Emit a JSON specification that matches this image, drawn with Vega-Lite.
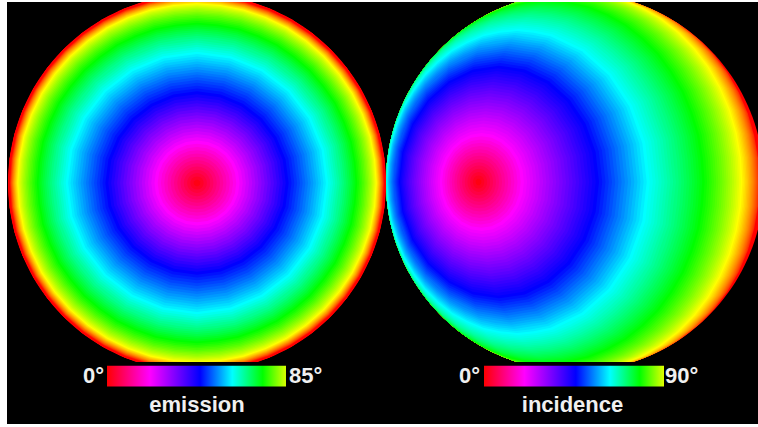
{
  "$schema": "https://vega.github.io/schema/vega-lite/v6.json",
  "background": "white",
  "padding": {"left": 7, "top": 2, "right": 0, "bottom": 3},
  "config": {"view": {"fill": "black", "stroke": null}, "concat": {"spacing": 0}},
  "datasets": {
    "caps": [
      {"a":108,"type":"Polygon","coordinates":[[[180,-18],[165,-18],[150,-18],[135,-18],[120,-18],[105,-18],[90,-18],[75,-18],[60,-18],[45,-18],[30,-18],[15,-18],[0,-18],[-15,-18],[-30,-18],[-45,-18],[-60,-18],[-75,-18],[-90,-18],[-105,-18],[-120,-18],[-135,-18],[-150,-18],[-165,-18],[180,-18]]]},
      {"a":107,"type":"Polygon","coordinates":[[[180,-17],[165,-17],[150,-17],[135,-17],[120,-17],[105,-17],[90,-17],[75,-17],[60,-17],[45,-17],[30,-17],[15,-17],[0,-17],[-15,-17],[-30,-17],[-45,-17],[-60,-17],[-75,-17],[-90,-17],[-105,-17],[-120,-17],[-135,-17],[-150,-17],[-165,-17],[180,-17]]]},
      {"a":106,"type":"Polygon","coordinates":[[[180,-16],[165,-16],[150,-16],[135,-16],[120,-16],[105,-16],[90,-16],[75,-16],[60,-16],[45,-16],[30,-16],[15,-16],[0,-16],[-15,-16],[-30,-16],[-45,-16],[-60,-16],[-75,-16],[-90,-16],[-105,-16],[-120,-16],[-135,-16],[-150,-16],[-165,-16],[180,-16]]]},
      {"a":105,"type":"Polygon","coordinates":[[[180,-15],[165,-15],[150,-15],[135,-15],[120,-15],[105,-15],[90,-15],[75,-15],[60,-15],[45,-15],[30,-15],[15,-15],[0,-15],[-15,-15],[-30,-15],[-45,-15],[-60,-15],[-75,-15],[-90,-15],[-105,-15],[-120,-15],[-135,-15],[-150,-15],[-165,-15],[180,-15]]]},
      {"a":104,"type":"Polygon","coordinates":[[[180,-14],[165,-14],[150,-14],[135,-14],[120,-14],[105,-14],[90,-14],[75,-14],[60,-14],[45,-14],[30,-14],[15,-14],[0,-14],[-15,-14],[-30,-14],[-45,-14],[-60,-14],[-75,-14],[-90,-14],[-105,-14],[-120,-14],[-135,-14],[-150,-14],[-165,-14],[180,-14]]]},
      {"a":103,"type":"Polygon","coordinates":[[[180,-13],[165,-13],[150,-13],[135,-13],[120,-13],[105,-13],[90,-13],[75,-13],[60,-13],[45,-13],[30,-13],[15,-13],[0,-13],[-15,-13],[-30,-13],[-45,-13],[-60,-13],[-75,-13],[-90,-13],[-105,-13],[-120,-13],[-135,-13],[-150,-13],[-165,-13],[180,-13]]]},
      {"a":102,"type":"Polygon","coordinates":[[[180,-12],[165,-12],[150,-12],[135,-12],[120,-12],[105,-12],[90,-12],[75,-12],[60,-12],[45,-12],[30,-12],[15,-12],[0,-12],[-15,-12],[-30,-12],[-45,-12],[-60,-12],[-75,-12],[-90,-12],[-105,-12],[-120,-12],[-135,-12],[-150,-12],[-165,-12],[180,-12]]]},
      {"a":101,"type":"Polygon","coordinates":[[[180,-11],[165,-11],[150,-11],[135,-11],[120,-11],[105,-11],[90,-11],[75,-11],[60,-11],[45,-11],[30,-11],[15,-11],[0,-11],[-15,-11],[-30,-11],[-45,-11],[-60,-11],[-75,-11],[-90,-11],[-105,-11],[-120,-11],[-135,-11],[-150,-11],[-165,-11],[180,-11]]]},
      {"a":100,"type":"Polygon","coordinates":[[[180,-10],[165,-10],[150,-10],[135,-10],[120,-10],[105,-10],[90,-10],[75,-10],[60,-10],[45,-10],[30,-10],[15,-10],[0,-10],[-15,-10],[-30,-10],[-45,-10],[-60,-10],[-75,-10],[-90,-10],[-105,-10],[-120,-10],[-135,-10],[-150,-10],[-165,-10],[180,-10]]]},
      {"a":99,"type":"Polygon","coordinates":[[[180,-9],[165,-9],[150,-9],[135,-9],[120,-9],[105,-9],[90,-9],[75,-9],[60,-9],[45,-9],[30,-9],[15,-9],[0,-9],[-15,-9],[-30,-9],[-45,-9],[-60,-9],[-75,-9],[-90,-9],[-105,-9],[-120,-9],[-135,-9],[-150,-9],[-165,-9],[180,-9]]]},
      {"a":98,"type":"Polygon","coordinates":[[[180,-8],[165,-8],[150,-8],[135,-8],[120,-8],[105,-8],[90,-8],[75,-8],[60,-8],[45,-8],[30,-8],[15,-8],[0,-8],[-15,-8],[-30,-8],[-45,-8],[-60,-8],[-75,-8],[-90,-8],[-105,-8],[-120,-8],[-135,-8],[-150,-8],[-165,-8],[180,-8]]]},
      {"a":97,"type":"Polygon","coordinates":[[[180,-7],[165,-7],[150,-7],[135,-7],[120,-7],[105,-7],[90,-7],[75,-7],[60,-7],[45,-7],[30,-7],[15,-7],[0,-7],[-15,-7],[-30,-7],[-45,-7],[-60,-7],[-75,-7],[-90,-7],[-105,-7],[-120,-7],[-135,-7],[-150,-7],[-165,-7],[180,-7]]]},
      {"a":96,"type":"Polygon","coordinates":[[[180,-6],[165,-6],[150,-6],[135,-6],[120,-6],[105,-6],[90,-6],[75,-6],[60,-6],[45,-6],[30,-6],[15,-6],[0,-6],[-15,-6],[-30,-6],[-45,-6],[-60,-6],[-75,-6],[-90,-6],[-105,-6],[-120,-6],[-135,-6],[-150,-6],[-165,-6],[180,-6]]]},
      {"a":95,"type":"Polygon","coordinates":[[[180,-5],[165,-5],[150,-5],[135,-5],[120,-5],[105,-5],[90,-5],[75,-5],[60,-5],[45,-5],[30,-5],[15,-5],[0,-5],[-15,-5],[-30,-5],[-45,-5],[-60,-5],[-75,-5],[-90,-5],[-105,-5],[-120,-5],[-135,-5],[-150,-5],[-165,-5],[180,-5]]]},
      {"a":94,"type":"Polygon","coordinates":[[[180,-4],[165,-4],[150,-4],[135,-4],[120,-4],[105,-4],[90,-4],[75,-4],[60,-4],[45,-4],[30,-4],[15,-4],[0,-4],[-15,-4],[-30,-4],[-45,-4],[-60,-4],[-75,-4],[-90,-4],[-105,-4],[-120,-4],[-135,-4],[-150,-4],[-165,-4],[180,-4]]]},
      {"a":93,"type":"Polygon","coordinates":[[[180,-3],[165,-3],[150,-3],[135,-3],[120,-3],[105,-3],[90,-3],[75,-3],[60,-3],[45,-3],[30,-3],[15,-3],[0,-3],[-15,-3],[-30,-3],[-45,-3],[-60,-3],[-75,-3],[-90,-3],[-105,-3],[-120,-3],[-135,-3],[-150,-3],[-165,-3],[180,-3]]]},
      {"a":92,"type":"Polygon","coordinates":[[[180,-2],[165,-2],[150,-2],[135,-2],[120,-2],[105,-2],[90,-2],[75,-2],[60,-2],[45,-2],[30,-2],[15,-2],[0,-2],[-15,-2],[-30,-2],[-45,-2],[-60,-2],[-75,-2],[-90,-2],[-105,-2],[-120,-2],[-135,-2],[-150,-2],[-165,-2],[180,-2]]]},
      {"a":91,"type":"Polygon","coordinates":[[[180,-1],[165,-1],[150,-1],[135,-1],[120,-1],[105,-1],[90,-1],[75,-1],[60,-1],[45,-1],[30,-1],[15,-1],[0,-1],[-15,-1],[-30,-1],[-45,-1],[-60,-1],[-75,-1],[-90,-1],[-105,-1],[-120,-1],[-135,-1],[-150,-1],[-165,-1],[180,-1]]]},
      {"a":90,"type":"Polygon","coordinates":[[[180,0],[165,0],[150,0],[135,0],[120,0],[105,0],[90,0],[75,0],[60,0],[45,0],[30,0],[15,0],[0,0],[-15,0],[-30,0],[-45,0],[-60,0],[-75,0],[-90,0],[-105,0],[-120,0],[-135,0],[-150,0],[-165,0],[180,0]]]},
      {"a":89,"type":"Polygon","coordinates":[[[180,1],[165,1],[150,1],[135,1],[120,1],[105,1],[90,1],[75,1],[60,1],[45,1],[30,1],[15,1],[0,1],[-15,1],[-30,1],[-45,1],[-60,1],[-75,1],[-90,1],[-105,1],[-120,1],[-135,1],[-150,1],[-165,1],[180,1]]]},
      {"a":88,"type":"Polygon","coordinates":[[[180,2],[165,2],[150,2],[135,2],[120,2],[105,2],[90,2],[75,2],[60,2],[45,2],[30,2],[15,2],[0,2],[-15,2],[-30,2],[-45,2],[-60,2],[-75,2],[-90,2],[-105,2],[-120,2],[-135,2],[-150,2],[-165,2],[180,2]]]},
      {"a":87,"type":"Polygon","coordinates":[[[180,3],[165,3],[150,3],[135,3],[120,3],[105,3],[90,3],[75,3],[60,3],[45,3],[30,3],[15,3],[0,3],[-15,3],[-30,3],[-45,3],[-60,3],[-75,3],[-90,3],[-105,3],[-120,3],[-135,3],[-150,3],[-165,3],[180,3]]]},
      {"a":86,"type":"Polygon","coordinates":[[[180,4],[165,4],[150,4],[135,4],[120,4],[105,4],[90,4],[75,4],[60,4],[45,4],[30,4],[15,4],[0,4],[-15,4],[-30,4],[-45,4],[-60,4],[-75,4],[-90,4],[-105,4],[-120,4],[-135,4],[-150,4],[-165,4],[180,4]]]},
      {"a":85,"type":"Polygon","coordinates":[[[180,5],[165,5],[150,5],[135,5],[120,5],[105,5],[90,5],[75,5],[60,5],[45,5],[30,5],[15,5],[0,5],[-15,5],[-30,5],[-45,5],[-60,5],[-75,5],[-90,5],[-105,5],[-120,5],[-135,5],[-150,5],[-165,5],[180,5]]]},
      {"a":84,"type":"Polygon","coordinates":[[[180,6],[165,6],[150,6],[135,6],[120,6],[105,6],[90,6],[75,6],[60,6],[45,6],[30,6],[15,6],[0,6],[-15,6],[-30,6],[-45,6],[-60,6],[-75,6],[-90,6],[-105,6],[-120,6],[-135,6],[-150,6],[-165,6],[180,6]]]},
      {"a":83,"type":"Polygon","coordinates":[[[180,7],[165,7],[150,7],[135,7],[120,7],[105,7],[90,7],[75,7],[60,7],[45,7],[30,7],[15,7],[0,7],[-15,7],[-30,7],[-45,7],[-60,7],[-75,7],[-90,7],[-105,7],[-120,7],[-135,7],[-150,7],[-165,7],[180,7]]]},
      {"a":82,"type":"Polygon","coordinates":[[[180,8],[165,8],[150,8],[135,8],[120,8],[105,8],[90,8],[75,8],[60,8],[45,8],[30,8],[15,8],[0,8],[-15,8],[-30,8],[-45,8],[-60,8],[-75,8],[-90,8],[-105,8],[-120,8],[-135,8],[-150,8],[-165,8],[180,8]]]},
      {"a":81,"type":"Polygon","coordinates":[[[180,9],[165,9],[150,9],[135,9],[120,9],[105,9],[90,9],[75,9],[60,9],[45,9],[30,9],[15,9],[0,9],[-15,9],[-30,9],[-45,9],[-60,9],[-75,9],[-90,9],[-105,9],[-120,9],[-135,9],[-150,9],[-165,9],[180,9]]]},
      {"a":80,"type":"Polygon","coordinates":[[[180,10],[165,10],[150,10],[135,10],[120,10],[105,10],[90,10],[75,10],[60,10],[45,10],[30,10],[15,10],[0,10],[-15,10],[-30,10],[-45,10],[-60,10],[-75,10],[-90,10],[-105,10],[-120,10],[-135,10],[-150,10],[-165,10],[180,10]]]},
      {"a":79,"type":"Polygon","coordinates":[[[180,11],[165,11],[150,11],[135,11],[120,11],[105,11],[90,11],[75,11],[60,11],[45,11],[30,11],[15,11],[0,11],[-15,11],[-30,11],[-45,11],[-60,11],[-75,11],[-90,11],[-105,11],[-120,11],[-135,11],[-150,11],[-165,11],[180,11]]]},
      {"a":78,"type":"Polygon","coordinates":[[[180,12],[165,12],[150,12],[135,12],[120,12],[105,12],[90,12],[75,12],[60,12],[45,12],[30,12],[15,12],[0,12],[-15,12],[-30,12],[-45,12],[-60,12],[-75,12],[-90,12],[-105,12],[-120,12],[-135,12],[-150,12],[-165,12],[180,12]]]},
      {"a":77,"type":"Polygon","coordinates":[[[180,13],[165,13],[150,13],[135,13],[120,13],[105,13],[90,13],[75,13],[60,13],[45,13],[30,13],[15,13],[0,13],[-15,13],[-30,13],[-45,13],[-60,13],[-75,13],[-90,13],[-105,13],[-120,13],[-135,13],[-150,13],[-165,13],[180,13]]]},
      {"a":76,"type":"Polygon","coordinates":[[[180,14],[165,14],[150,14],[135,14],[120,14],[105,14],[90,14],[75,14],[60,14],[45,14],[30,14],[15,14],[0,14],[-15,14],[-30,14],[-45,14],[-60,14],[-75,14],[-90,14],[-105,14],[-120,14],[-135,14],[-150,14],[-165,14],[180,14]]]},
      {"a":75,"type":"Polygon","coordinates":[[[180,15],[165,15],[150,15],[135,15],[120,15],[105,15],[90,15],[75,15],[60,15],[45,15],[30,15],[15,15],[0,15],[-15,15],[-30,15],[-45,15],[-60,15],[-75,15],[-90,15],[-105,15],[-120,15],[-135,15],[-150,15],[-165,15],[180,15]]]},
      {"a":74,"type":"Polygon","coordinates":[[[180,16],[165,16],[150,16],[135,16],[120,16],[105,16],[90,16],[75,16],[60,16],[45,16],[30,16],[15,16],[0,16],[-15,16],[-30,16],[-45,16],[-60,16],[-75,16],[-90,16],[-105,16],[-120,16],[-135,16],[-150,16],[-165,16],[180,16]]]},
      {"a":73,"type":"Polygon","coordinates":[[[180,17],[165,17],[150,17],[135,17],[120,17],[105,17],[90,17],[75,17],[60,17],[45,17],[30,17],[15,17],[0,17],[-15,17],[-30,17],[-45,17],[-60,17],[-75,17],[-90,17],[-105,17],[-120,17],[-135,17],[-150,17],[-165,17],[180,17]]]},
      {"a":72,"type":"Polygon","coordinates":[[[180,18],[165,18],[150,18],[135,18],[120,18],[105,18],[90,18],[75,18],[60,18],[45,18],[30,18],[15,18],[0,18],[-15,18],[-30,18],[-45,18],[-60,18],[-75,18],[-90,18],[-105,18],[-120,18],[-135,18],[-150,18],[-165,18],[180,18]]]},
      {"a":71,"type":"Polygon","coordinates":[[[180,19],[165,19],[150,19],[135,19],[120,19],[105,19],[90,19],[75,19],[60,19],[45,19],[30,19],[15,19],[0,19],[-15,19],[-30,19],[-45,19],[-60,19],[-75,19],[-90,19],[-105,19],[-120,19],[-135,19],[-150,19],[-165,19],[180,19]]]},
      {"a":70,"type":"Polygon","coordinates":[[[180,20],[165,20],[150,20],[135,20],[120,20],[105,20],[90,20],[75,20],[60,20],[45,20],[30,20],[15,20],[0,20],[-15,20],[-30,20],[-45,20],[-60,20],[-75,20],[-90,20],[-105,20],[-120,20],[-135,20],[-150,20],[-165,20],[180,20]]]},
      {"a":69,"type":"Polygon","coordinates":[[[180,21],[165,21],[150,21],[135,21],[120,21],[105,21],[90,21],[75,21],[60,21],[45,21],[30,21],[15,21],[0,21],[-15,21],[-30,21],[-45,21],[-60,21],[-75,21],[-90,21],[-105,21],[-120,21],[-135,21],[-150,21],[-165,21],[180,21]]]},
      {"a":68,"type":"Polygon","coordinates":[[[180,22],[165,22],[150,22],[135,22],[120,22],[105,22],[90,22],[75,22],[60,22],[45,22],[30,22],[15,22],[0,22],[-15,22],[-30,22],[-45,22],[-60,22],[-75,22],[-90,22],[-105,22],[-120,22],[-135,22],[-150,22],[-165,22],[180,22]]]},
      {"a":67,"type":"Polygon","coordinates":[[[180,23],[165,23],[150,23],[135,23],[120,23],[105,23],[90,23],[75,23],[60,23],[45,23],[30,23],[15,23],[0,23],[-15,23],[-30,23],[-45,23],[-60,23],[-75,23],[-90,23],[-105,23],[-120,23],[-135,23],[-150,23],[-165,23],[180,23]]]},
      {"a":66,"type":"Polygon","coordinates":[[[180,24],[165,24],[150,24],[135,24],[120,24],[105,24],[90,24],[75,24],[60,24],[45,24],[30,24],[15,24],[0,24],[-15,24],[-30,24],[-45,24],[-60,24],[-75,24],[-90,24],[-105,24],[-120,24],[-135,24],[-150,24],[-165,24],[180,24]]]},
      {"a":65,"type":"Polygon","coordinates":[[[180,25],[165,25],[150,25],[135,25],[120,25],[105,25],[90,25],[75,25],[60,25],[45,25],[30,25],[15,25],[0,25],[-15,25],[-30,25],[-45,25],[-60,25],[-75,25],[-90,25],[-105,25],[-120,25],[-135,25],[-150,25],[-165,25],[180,25]]]},
      {"a":64,"type":"Polygon","coordinates":[[[180,26],[165,26],[150,26],[135,26],[120,26],[105,26],[90,26],[75,26],[60,26],[45,26],[30,26],[15,26],[0,26],[-15,26],[-30,26],[-45,26],[-60,26],[-75,26],[-90,26],[-105,26],[-120,26],[-135,26],[-150,26],[-165,26],[180,26]]]},
      {"a":63,"type":"Polygon","coordinates":[[[180,27],[165,27],[150,27],[135,27],[120,27],[105,27],[90,27],[75,27],[60,27],[45,27],[30,27],[15,27],[0,27],[-15,27],[-30,27],[-45,27],[-60,27],[-75,27],[-90,27],[-105,27],[-120,27],[-135,27],[-150,27],[-165,27],[180,27]]]},
      {"a":62,"type":"Polygon","coordinates":[[[180,28],[165,28],[150,28],[135,28],[120,28],[105,28],[90,28],[75,28],[60,28],[45,28],[30,28],[15,28],[0,28],[-15,28],[-30,28],[-45,28],[-60,28],[-75,28],[-90,28],[-105,28],[-120,28],[-135,28],[-150,28],[-165,28],[180,28]]]},
      {"a":61,"type":"Polygon","coordinates":[[[180,29],[165,29],[150,29],[135,29],[120,29],[105,29],[90,29],[75,29],[60,29],[45,29],[30,29],[15,29],[0,29],[-15,29],[-30,29],[-45,29],[-60,29],[-75,29],[-90,29],[-105,29],[-120,29],[-135,29],[-150,29],[-165,29],[180,29]]]},
      {"a":60,"type":"Polygon","coordinates":[[[180,30],[165,30],[150,30],[135,30],[120,30],[105,30],[90,30],[75,30],[60,30],[45,30],[30,30],[15,30],[0,30],[-15,30],[-30,30],[-45,30],[-60,30],[-75,30],[-90,30],[-105,30],[-120,30],[-135,30],[-150,30],[-165,30],[180,30]]]},
      {"a":59,"type":"Polygon","coordinates":[[[180,31],[165,31],[150,31],[135,31],[120,31],[105,31],[90,31],[75,31],[60,31],[45,31],[30,31],[15,31],[0,31],[-15,31],[-30,31],[-45,31],[-60,31],[-75,31],[-90,31],[-105,31],[-120,31],[-135,31],[-150,31],[-165,31],[180,31]]]},
      {"a":58,"type":"Polygon","coordinates":[[[180,32],[165,32],[150,32],[135,32],[120,32],[105,32],[90,32],[75,32],[60,32],[45,32],[30,32],[15,32],[0,32],[-15,32],[-30,32],[-45,32],[-60,32],[-75,32],[-90,32],[-105,32],[-120,32],[-135,32],[-150,32],[-165,32],[180,32]]]},
      {"a":57,"type":"Polygon","coordinates":[[[180,33],[165,33],[150,33],[135,33],[120,33],[105,33],[90,33],[75,33],[60,33],[45,33],[30,33],[15,33],[0,33],[-15,33],[-30,33],[-45,33],[-60,33],[-75,33],[-90,33],[-105,33],[-120,33],[-135,33],[-150,33],[-165,33],[180,33]]]},
      {"a":56,"type":"Polygon","coordinates":[[[180,34],[165,34],[150,34],[135,34],[120,34],[105,34],[90,34],[75,34],[60,34],[45,34],[30,34],[15,34],[0,34],[-15,34],[-30,34],[-45,34],[-60,34],[-75,34],[-90,34],[-105,34],[-120,34],[-135,34],[-150,34],[-165,34],[180,34]]]},
      {"a":55,"type":"Polygon","coordinates":[[[180,35],[165,35],[150,35],[135,35],[120,35],[105,35],[90,35],[75,35],[60,35],[45,35],[30,35],[15,35],[0,35],[-15,35],[-30,35],[-45,35],[-60,35],[-75,35],[-90,35],[-105,35],[-120,35],[-135,35],[-150,35],[-165,35],[180,35]]]},
      {"a":54,"type":"Polygon","coordinates":[[[180,36],[165,36],[150,36],[135,36],[120,36],[105,36],[90,36],[75,36],[60,36],[45,36],[30,36],[15,36],[0,36],[-15,36],[-30,36],[-45,36],[-60,36],[-75,36],[-90,36],[-105,36],[-120,36],[-135,36],[-150,36],[-165,36],[180,36]]]},
      {"a":53,"type":"Polygon","coordinates":[[[180,37],[165,37],[150,37],[135,37],[120,37],[105,37],[90,37],[75,37],[60,37],[45,37],[30,37],[15,37],[0,37],[-15,37],[-30,37],[-45,37],[-60,37],[-75,37],[-90,37],[-105,37],[-120,37],[-135,37],[-150,37],[-165,37],[180,37]]]},
      {"a":52,"type":"Polygon","coordinates":[[[180,38],[165,38],[150,38],[135,38],[120,38],[105,38],[90,38],[75,38],[60,38],[45,38],[30,38],[15,38],[0,38],[-15,38],[-30,38],[-45,38],[-60,38],[-75,38],[-90,38],[-105,38],[-120,38],[-135,38],[-150,38],[-165,38],[180,38]]]},
      {"a":51,"type":"Polygon","coordinates":[[[180,39],[165,39],[150,39],[135,39],[120,39],[105,39],[90,39],[75,39],[60,39],[45,39],[30,39],[15,39],[0,39],[-15,39],[-30,39],[-45,39],[-60,39],[-75,39],[-90,39],[-105,39],[-120,39],[-135,39],[-150,39],[-165,39],[180,39]]]},
      {"a":50,"type":"Polygon","coordinates":[[[180,40],[165,40],[150,40],[135,40],[120,40],[105,40],[90,40],[75,40],[60,40],[45,40],[30,40],[15,40],[0,40],[-15,40],[-30,40],[-45,40],[-60,40],[-75,40],[-90,40],[-105,40],[-120,40],[-135,40],[-150,40],[-165,40],[180,40]]]},
      {"a":49,"type":"Polygon","coordinates":[[[180,41],[165,41],[150,41],[135,41],[120,41],[105,41],[90,41],[75,41],[60,41],[45,41],[30,41],[15,41],[0,41],[-15,41],[-30,41],[-45,41],[-60,41],[-75,41],[-90,41],[-105,41],[-120,41],[-135,41],[-150,41],[-165,41],[180,41]]]},
      {"a":48,"type":"Polygon","coordinates":[[[180,42],[165,42],[150,42],[135,42],[120,42],[105,42],[90,42],[75,42],[60,42],[45,42],[30,42],[15,42],[0,42],[-15,42],[-30,42],[-45,42],[-60,42],[-75,42],[-90,42],[-105,42],[-120,42],[-135,42],[-150,42],[-165,42],[180,42]]]},
      {"a":47,"type":"Polygon","coordinates":[[[180,43],[165,43],[150,43],[135,43],[120,43],[105,43],[90,43],[75,43],[60,43],[45,43],[30,43],[15,43],[0,43],[-15,43],[-30,43],[-45,43],[-60,43],[-75,43],[-90,43],[-105,43],[-120,43],[-135,43],[-150,43],[-165,43],[180,43]]]},
      {"a":46,"type":"Polygon","coordinates":[[[180,44],[165,44],[150,44],[135,44],[120,44],[105,44],[90,44],[75,44],[60,44],[45,44],[30,44],[15,44],[0,44],[-15,44],[-30,44],[-45,44],[-60,44],[-75,44],[-90,44],[-105,44],[-120,44],[-135,44],[-150,44],[-165,44],[180,44]]]},
      {"a":45,"type":"Polygon","coordinates":[[[180,45],[165,45],[150,45],[135,45],[120,45],[105,45],[90,45],[75,45],[60,45],[45,45],[30,45],[15,45],[0,45],[-15,45],[-30,45],[-45,45],[-60,45],[-75,45],[-90,45],[-105,45],[-120,45],[-135,45],[-150,45],[-165,45],[180,45]]]},
      {"a":44,"type":"Polygon","coordinates":[[[180,46],[165,46],[150,46],[135,46],[120,46],[105,46],[90,46],[75,46],[60,46],[45,46],[30,46],[15,46],[0,46],[-15,46],[-30,46],[-45,46],[-60,46],[-75,46],[-90,46],[-105,46],[-120,46],[-135,46],[-150,46],[-165,46],[180,46]]]},
      {"a":43,"type":"Polygon","coordinates":[[[180,47],[165,47],[150,47],[135,47],[120,47],[105,47],[90,47],[75,47],[60,47],[45,47],[30,47],[15,47],[0,47],[-15,47],[-30,47],[-45,47],[-60,47],[-75,47],[-90,47],[-105,47],[-120,47],[-135,47],[-150,47],[-165,47],[180,47]]]},
      {"a":42,"type":"Polygon","coordinates":[[[180,48],[165,48],[150,48],[135,48],[120,48],[105,48],[90,48],[75,48],[60,48],[45,48],[30,48],[15,48],[0,48],[-15,48],[-30,48],[-45,48],[-60,48],[-75,48],[-90,48],[-105,48],[-120,48],[-135,48],[-150,48],[-165,48],[180,48]]]},
      {"a":41,"type":"Polygon","coordinates":[[[180,49],[165,49],[150,49],[135,49],[120,49],[105,49],[90,49],[75,49],[60,49],[45,49],[30,49],[15,49],[0,49],[-15,49],[-30,49],[-45,49],[-60,49],[-75,49],[-90,49],[-105,49],[-120,49],[-135,49],[-150,49],[-165,49],[180,49]]]},
      {"a":40,"type":"Polygon","coordinates":[[[180,50],[165,50],[150,50],[135,50],[120,50],[105,50],[90,50],[75,50],[60,50],[45,50],[30,50],[15,50],[0,50],[-15,50],[-30,50],[-45,50],[-60,50],[-75,50],[-90,50],[-105,50],[-120,50],[-135,50],[-150,50],[-165,50],[180,50]]]},
      {"a":39,"type":"Polygon","coordinates":[[[180,51],[165,51],[150,51],[135,51],[120,51],[105,51],[90,51],[75,51],[60,51],[45,51],[30,51],[15,51],[0,51],[-15,51],[-30,51],[-45,51],[-60,51],[-75,51],[-90,51],[-105,51],[-120,51],[-135,51],[-150,51],[-165,51],[180,51]]]},
      {"a":38,"type":"Polygon","coordinates":[[[180,52],[165,52],[150,52],[135,52],[120,52],[105,52],[90,52],[75,52],[60,52],[45,52],[30,52],[15,52],[0,52],[-15,52],[-30,52],[-45,52],[-60,52],[-75,52],[-90,52],[-105,52],[-120,52],[-135,52],[-150,52],[-165,52],[180,52]]]},
      {"a":37,"type":"Polygon","coordinates":[[[180,53],[165,53],[150,53],[135,53],[120,53],[105,53],[90,53],[75,53],[60,53],[45,53],[30,53],[15,53],[0,53],[-15,53],[-30,53],[-45,53],[-60,53],[-75,53],[-90,53],[-105,53],[-120,53],[-135,53],[-150,53],[-165,53],[180,53]]]},
      {"a":36,"type":"Polygon","coordinates":[[[180,54],[165,54],[150,54],[135,54],[120,54],[105,54],[90,54],[75,54],[60,54],[45,54],[30,54],[15,54],[0,54],[-15,54],[-30,54],[-45,54],[-60,54],[-75,54],[-90,54],[-105,54],[-120,54],[-135,54],[-150,54],[-165,54],[180,54]]]},
      {"a":35,"type":"Polygon","coordinates":[[[180,55],[165,55],[150,55],[135,55],[120,55],[105,55],[90,55],[75,55],[60,55],[45,55],[30,55],[15,55],[0,55],[-15,55],[-30,55],[-45,55],[-60,55],[-75,55],[-90,55],[-105,55],[-120,55],[-135,55],[-150,55],[-165,55],[180,55]]]},
      {"a":34,"type":"Polygon","coordinates":[[[180,56],[165,56],[150,56],[135,56],[120,56],[105,56],[90,56],[75,56],[60,56],[45,56],[30,56],[15,56],[0,56],[-15,56],[-30,56],[-45,56],[-60,56],[-75,56],[-90,56],[-105,56],[-120,56],[-135,56],[-150,56],[-165,56],[180,56]]]},
      {"a":33,"type":"Polygon","coordinates":[[[180,57],[165,57],[150,57],[135,57],[120,57],[105,57],[90,57],[75,57],[60,57],[45,57],[30,57],[15,57],[0,57],[-15,57],[-30,57],[-45,57],[-60,57],[-75,57],[-90,57],[-105,57],[-120,57],[-135,57],[-150,57],[-165,57],[180,57]]]},
      {"a":32,"type":"Polygon","coordinates":[[[180,58],[165,58],[150,58],[135,58],[120,58],[105,58],[90,58],[75,58],[60,58],[45,58],[30,58],[15,58],[0,58],[-15,58],[-30,58],[-45,58],[-60,58],[-75,58],[-90,58],[-105,58],[-120,58],[-135,58],[-150,58],[-165,58],[180,58]]]},
      {"a":31,"type":"Polygon","coordinates":[[[180,59],[165,59],[150,59],[135,59],[120,59],[105,59],[90,59],[75,59],[60,59],[45,59],[30,59],[15,59],[0,59],[-15,59],[-30,59],[-45,59],[-60,59],[-75,59],[-90,59],[-105,59],[-120,59],[-135,59],[-150,59],[-165,59],[180,59]]]},
      {"a":30,"type":"Polygon","coordinates":[[[180,60],[165,60],[150,60],[135,60],[120,60],[105,60],[90,60],[75,60],[60,60],[45,60],[30,60],[15,60],[0,60],[-15,60],[-30,60],[-45,60],[-60,60],[-75,60],[-90,60],[-105,60],[-120,60],[-135,60],[-150,60],[-165,60],[180,60]]]},
      {"a":29,"type":"Polygon","coordinates":[[[180,61],[165,61],[150,61],[135,61],[120,61],[105,61],[90,61],[75,61],[60,61],[45,61],[30,61],[15,61],[0,61],[-15,61],[-30,61],[-45,61],[-60,61],[-75,61],[-90,61],[-105,61],[-120,61],[-135,61],[-150,61],[-165,61],[180,61]]]},
      {"a":28,"type":"Polygon","coordinates":[[[180,62],[165,62],[150,62],[135,62],[120,62],[105,62],[90,62],[75,62],[60,62],[45,62],[30,62],[15,62],[0,62],[-15,62],[-30,62],[-45,62],[-60,62],[-75,62],[-90,62],[-105,62],[-120,62],[-135,62],[-150,62],[-165,62],[180,62]]]},
      {"a":27,"type":"Polygon","coordinates":[[[180,63],[165,63],[150,63],[135,63],[120,63],[105,63],[90,63],[75,63],[60,63],[45,63],[30,63],[15,63],[0,63],[-15,63],[-30,63],[-45,63],[-60,63],[-75,63],[-90,63],[-105,63],[-120,63],[-135,63],[-150,63],[-165,63],[180,63]]]},
      {"a":26,"type":"Polygon","coordinates":[[[180,64],[165,64],[150,64],[135,64],[120,64],[105,64],[90,64],[75,64],[60,64],[45,64],[30,64],[15,64],[0,64],[-15,64],[-30,64],[-45,64],[-60,64],[-75,64],[-90,64],[-105,64],[-120,64],[-135,64],[-150,64],[-165,64],[180,64]]]},
      {"a":25,"type":"Polygon","coordinates":[[[180,65],[165,65],[150,65],[135,65],[120,65],[105,65],[90,65],[75,65],[60,65],[45,65],[30,65],[15,65],[0,65],[-15,65],[-30,65],[-45,65],[-60,65],[-75,65],[-90,65],[-105,65],[-120,65],[-135,65],[-150,65],[-165,65],[180,65]]]},
      {"a":24,"type":"Polygon","coordinates":[[[180,66],[165,66],[150,66],[135,66],[120,66],[105,66],[90,66],[75,66],[60,66],[45,66],[30,66],[15,66],[0,66],[-15,66],[-30,66],[-45,66],[-60,66],[-75,66],[-90,66],[-105,66],[-120,66],[-135,66],[-150,66],[-165,66],[180,66]]]},
      {"a":23,"type":"Polygon","coordinates":[[[180,67],[165,67],[150,67],[135,67],[120,67],[105,67],[90,67],[75,67],[60,67],[45,67],[30,67],[15,67],[0,67],[-15,67],[-30,67],[-45,67],[-60,67],[-75,67],[-90,67],[-105,67],[-120,67],[-135,67],[-150,67],[-165,67],[180,67]]]},
      {"a":22,"type":"Polygon","coordinates":[[[180,68],[165,68],[150,68],[135,68],[120,68],[105,68],[90,68],[75,68],[60,68],[45,68],[30,68],[15,68],[0,68],[-15,68],[-30,68],[-45,68],[-60,68],[-75,68],[-90,68],[-105,68],[-120,68],[-135,68],[-150,68],[-165,68],[180,68]]]},
      {"a":21,"type":"Polygon","coordinates":[[[180,69],[165,69],[150,69],[135,69],[120,69],[105,69],[90,69],[75,69],[60,69],[45,69],[30,69],[15,69],[0,69],[-15,69],[-30,69],[-45,69],[-60,69],[-75,69],[-90,69],[-105,69],[-120,69],[-135,69],[-150,69],[-165,69],[180,69]]]},
      {"a":20,"type":"Polygon","coordinates":[[[180,70],[165,70],[150,70],[135,70],[120,70],[105,70],[90,70],[75,70],[60,70],[45,70],[30,70],[15,70],[0,70],[-15,70],[-30,70],[-45,70],[-60,70],[-75,70],[-90,70],[-105,70],[-120,70],[-135,70],[-150,70],[-165,70],[180,70]]]},
      {"a":19,"type":"Polygon","coordinates":[[[180,71],[165,71],[150,71],[135,71],[120,71],[105,71],[90,71],[75,71],[60,71],[45,71],[30,71],[15,71],[0,71],[-15,71],[-30,71],[-45,71],[-60,71],[-75,71],[-90,71],[-105,71],[-120,71],[-135,71],[-150,71],[-165,71],[180,71]]]},
      {"a":18,"type":"Polygon","coordinates":[[[180,72],[165,72],[150,72],[135,72],[120,72],[105,72],[90,72],[75,72],[60,72],[45,72],[30,72],[15,72],[0,72],[-15,72],[-30,72],[-45,72],[-60,72],[-75,72],[-90,72],[-105,72],[-120,72],[-135,72],[-150,72],[-165,72],[180,72]]]},
      {"a":17,"type":"Polygon","coordinates":[[[180,73],[165,73],[150,73],[135,73],[120,73],[105,73],[90,73],[75,73],[60,73],[45,73],[30,73],[15,73],[0,73],[-15,73],[-30,73],[-45,73],[-60,73],[-75,73],[-90,73],[-105,73],[-120,73],[-135,73],[-150,73],[-165,73],[180,73]]]},
      {"a":16,"type":"Polygon","coordinates":[[[180,74],[165,74],[150,74],[135,74],[120,74],[105,74],[90,74],[75,74],[60,74],[45,74],[30,74],[15,74],[0,74],[-15,74],[-30,74],[-45,74],[-60,74],[-75,74],[-90,74],[-105,74],[-120,74],[-135,74],[-150,74],[-165,74],[180,74]]]},
      {"a":15,"type":"Polygon","coordinates":[[[180,75],[165,75],[150,75],[135,75],[120,75],[105,75],[90,75],[75,75],[60,75],[45,75],[30,75],[15,75],[0,75],[-15,75],[-30,75],[-45,75],[-60,75],[-75,75],[-90,75],[-105,75],[-120,75],[-135,75],[-150,75],[-165,75],[180,75]]]},
      {"a":14,"type":"Polygon","coordinates":[[[180,76],[165,76],[150,76],[135,76],[120,76],[105,76],[90,76],[75,76],[60,76],[45,76],[30,76],[15,76],[0,76],[-15,76],[-30,76],[-45,76],[-60,76],[-75,76],[-90,76],[-105,76],[-120,76],[-135,76],[-150,76],[-165,76],[180,76]]]},
      {"a":13,"type":"Polygon","coordinates":[[[180,77],[165,77],[150,77],[135,77],[120,77],[105,77],[90,77],[75,77],[60,77],[45,77],[30,77],[15,77],[0,77],[-15,77],[-30,77],[-45,77],[-60,77],[-75,77],[-90,77],[-105,77],[-120,77],[-135,77],[-150,77],[-165,77],[180,77]]]},
      {"a":12,"type":"Polygon","coordinates":[[[180,78],[165,78],[150,78],[135,78],[120,78],[105,78],[90,78],[75,78],[60,78],[45,78],[30,78],[15,78],[0,78],[-15,78],[-30,78],[-45,78],[-60,78],[-75,78],[-90,78],[-105,78],[-120,78],[-135,78],[-150,78],[-165,78],[180,78]]]},
      {"a":11,"type":"Polygon","coordinates":[[[180,79],[165,79],[150,79],[135,79],[120,79],[105,79],[90,79],[75,79],[60,79],[45,79],[30,79],[15,79],[0,79],[-15,79],[-30,79],[-45,79],[-60,79],[-75,79],[-90,79],[-105,79],[-120,79],[-135,79],[-150,79],[-165,79],[180,79]]]},
      {"a":10,"type":"Polygon","coordinates":[[[180,80],[165,80],[150,80],[135,80],[120,80],[105,80],[90,80],[75,80],[60,80],[45,80],[30,80],[15,80],[0,80],[-15,80],[-30,80],[-45,80],[-60,80],[-75,80],[-90,80],[-105,80],[-120,80],[-135,80],[-150,80],[-165,80],[180,80]]]},
      {"a":9,"type":"Polygon","coordinates":[[[180,81],[165,81],[150,81],[135,81],[120,81],[105,81],[90,81],[75,81],[60,81],[45,81],[30,81],[15,81],[0,81],[-15,81],[-30,81],[-45,81],[-60,81],[-75,81],[-90,81],[-105,81],[-120,81],[-135,81],[-150,81],[-165,81],[180,81]]]},
      {"a":8,"type":"Polygon","coordinates":[[[180,82],[165,82],[150,82],[135,82],[120,82],[105,82],[90,82],[75,82],[60,82],[45,82],[30,82],[15,82],[0,82],[-15,82],[-30,82],[-45,82],[-60,82],[-75,82],[-90,82],[-105,82],[-120,82],[-135,82],[-150,82],[-165,82],[180,82]]]},
      {"a":7,"type":"Polygon","coordinates":[[[180,83],[165,83],[150,83],[135,83],[120,83],[105,83],[90,83],[75,83],[60,83],[45,83],[30,83],[15,83],[0,83],[-15,83],[-30,83],[-45,83],[-60,83],[-75,83],[-90,83],[-105,83],[-120,83],[-135,83],[-150,83],[-165,83],[180,83]]]},
      {"a":6,"type":"Polygon","coordinates":[[[180,84],[165,84],[150,84],[135,84],[120,84],[105,84],[90,84],[75,84],[60,84],[45,84],[30,84],[15,84],[0,84],[-15,84],[-30,84],[-45,84],[-60,84],[-75,84],[-90,84],[-105,84],[-120,84],[-135,84],[-150,84],[-165,84],[180,84]]]},
      {"a":5,"type":"Polygon","coordinates":[[[180,85],[165,85],[150,85],[135,85],[120,85],[105,85],[90,85],[75,85],[60,85],[45,85],[30,85],[15,85],[0,85],[-15,85],[-30,85],[-45,85],[-60,85],[-75,85],[-90,85],[-105,85],[-120,85],[-135,85],[-150,85],[-165,85],[180,85]]]},
      {"a":4,"type":"Polygon","coordinates":[[[180,86],[165,86],[150,86],[135,86],[120,86],[105,86],[90,86],[75,86],[60,86],[45,86],[30,86],[15,86],[0,86],[-15,86],[-30,86],[-45,86],[-60,86],[-75,86],[-90,86],[-105,86],[-120,86],[-135,86],[-150,86],[-165,86],[180,86]]]},
      {"a":3,"type":"Polygon","coordinates":[[[180,87],[165,87],[150,87],[135,87],[120,87],[105,87],[90,87],[75,87],[60,87],[45,87],[30,87],[15,87],[0,87],[-15,87],[-30,87],[-45,87],[-60,87],[-75,87],[-90,87],[-105,87],[-120,87],[-135,87],[-150,87],[-165,87],[180,87]]]},
      {"a":2,"type":"Polygon","coordinates":[[[180,88],[165,88],[150,88],[135,88],[120,88],[105,88],[90,88],[75,88],[60,88],[45,88],[30,88],[15,88],[0,88],[-15,88],[-30,88],[-45,88],[-60,88],[-75,88],[-90,88],[-105,88],[-120,88],[-135,88],[-150,88],[-165,88],[180,88]]]},
      {"a":1,"type":"Polygon","coordinates":[[[180,89],[165,89],[150,89],[135,89],[120,89],[105,89],[90,89],[75,89],[60,89],[45,89],[30,89],[15,89],[0,89],[-15,89],[-30,89],[-45,89],[-60,89],[-75,89],[-90,89],[-105,89],[-120,89],[-135,89],[-150,89],[-165,89],[180,89]]]}
    ]
  },
  "spacing": 0,
  "resolve": {"scale": {"color": "independent", "x": "independent", "y": "independent"}},
  "hconcat": [
    {
      "spacing": 0,
      "resolve": {"scale": {"color": "independent", "x": "independent", "y": "independent"}},
      "vconcat": [
        {
          "width": 379,
          "height": 360,
          "view": {"fill": "black", "stroke": null},
          "projection": {"type": "orthographic", "rotate": [0, -90, 0], "scale": 189, "translate": [190, 181]},
          "layer": [
            {
              "data": {"sphere": true},
              "mark": {"type": "geoshape", "filled": true, "fill": "#ff0000", "stroke": null, "strokeWidth": 0, "clip": true},
              "encoding": {}
            },
            {
              "data": {"name": "caps"},
              "transform": [{"filter": "datum.a < 90"}],
              "mark": {"type": "geoshape", "filled": true, "stroke": null, "strokeWidth": 0, "clip": true},
              "encoding": {
                "color": {
                  "field": "a",
                  "type": "quantitative",
                  "legend": null,
                  "scale": {
                    "type": "linear",
                    "domain": [0, 13, 29, 44, 58, 72, 83, 90],
                    "range": ["#ff0000", "#ff00ff", "#0000ff", "#00ffff", "#00ff00", "#ffff00", "#ff0000", "#ff0000"],
                    "interpolate": "rgb",
                    "clamp": true
                  }
                }
              }
            }
          ]
        },
        {
          "width": 379,
          "height": 62,
          "data": {"values": [{"lo": 0, "hi": 85, "row": "bar"}]},
          "layer": [
            {
              "mark": {
                "type": "rect",
                "color": {
                  "gradient": "linear", "x1": 0, "y1": 0, "x2": 1, "y2": 0,
                  "stops": [
                    {"offset": 0, "color": "#ff0000"},
                    {"offset": 0.24, "color": "#ff00ff"},
                    {"offset": 0.52, "color": "#0000ff"},
                    {"offset": 0.70, "color": "#00ffff"},
                    {"offset": 0.87, "color": "#00ff00"},
                    {"offset": 1, "color": "#d8ff00"}
                  ]
                }
              },
              "encoding": {
                "x": {
                  "field": "lo", "type": "quantitative",
                  "scale": {"domain": [-47.5, 132.5], "nice": false, "zero": false},
                  "axis": {"orient": "bottom", "offset": -40, "domain": false, "ticks": false, "labels": false, "grid": false,
                           "title": "emission", "titleColor": "#f0f0f0", "titleFont": "Liberation Sans", "titleFontSize": 22,
                           "titleFontWeight": "bold", "titlePadding": 10}
                },
                "x2": {"field": "hi"},
                "y": {"field": "row", "type": "nominal", "axis": null,
                      "scale": {"paddingInner": 0, "paddingOuter": 1.222, "align": 0.0909}}
              }
            },
            {
              "mark": {"type": "text", "align": "right", "baseline": "middle", "dx": -3, "font": "Liberation Sans", "fontSize": 22, "fontWeight": "bold", "color": "#f0f0f0"},
              "encoding": {"x": {"datum": 0, "type": "quantitative"}, "y": {"datum": "bar", "type": "nominal"}, "text": {"value": "0°"}}
            },
            {
              "mark": {"type": "text", "align": "left", "baseline": "middle", "dx": 3, "font": "Liberation Sans", "fontSize": 22, "fontWeight": "bold", "color": "#f0f0f0"},
              "encoding": {"x": {"datum": 85, "type": "quantitative"}, "y": {"datum": "bar", "type": "nominal"}, "text": {"value": "85°"}}
            }
          ]
        }
      ]
    },
    {
      "spacing": 0,
      "resolve": {"scale": {"color": "independent", "x": "independent", "y": "independent"}},
      "vconcat": [
        {
          "width": 372,
          "height": 360,
          "view": {"fill": "black", "stroke": null},
          "projection": {"type": "orthographic", "rotate": [0, -59.3, 90], "scale": 189, "translate": [189, 180]},
          "layer": [
            {
              "data": {"sphere": true},
              "mark": {"type": "geoshape", "filled": true, "fill": "#ff0000", "stroke": null, "strokeWidth": 0, "clip": true},
              "encoding": {}
            },
            {
              "data": {"name": "caps"},
              "mark": {"type": "geoshape", "filled": true, "stroke": null, "strokeWidth": 0, "clip": true},
              "encoding": {
                "color": {
                  "field": "a",
                  "type": "quantitative",
                  "legend": null,
                  "scale": {
                    "type": "linear",
                    "domain": [0, 15, 38, 54, 74, 93, 111],
                    "range": ["#ff0000", "#ff00ff", "#0000ff", "#00ffff", "#00ff00", "#ffff00", "#ff0000"],
                    "interpolate": "rgb",
                    "clamp": true
                  }
                }
              }
            }
          ]
        },
        {
          "width": 372,
          "height": 62,
          "data": {"values": [{"lo": 0, "hi": 90, "row": "bar"}]},
          "layer": [
            {
              "mark": {
                "type": "rect",
                "color": {
                  "gradient": "linear", "x1": 0, "y1": 0, "x2": 1, "y2": 0,
                  "stops": [
                    {"offset": 0, "color": "#ff0000"},
                    {"offset": 0.225, "color": "#ff00ff"},
                    {"offset": 0.51, "color": "#0000ff"},
                    {"offset": 0.70, "color": "#00ffff"},
                    {"offset": 0.865, "color": "#00ff00"},
                    {"offset": 1, "color": "#e0ff00"}
                  ]
                }
              },
              "encoding": {
                "x": {
                  "field": "lo", "type": "quantitative",
                  "scale": {"domain": [-49, 137], "nice": false, "zero": false},
                  "axis": {"orient": "bottom", "offset": -40, "domain": false, "ticks": false, "labels": false, "grid": false,
                           "title": "incidence", "titleColor": "#f0f0f0", "titleFont": "Liberation Sans", "titleFontSize": 22,
                           "titleFontWeight": "bold", "titlePadding": 10}
                },
                "x2": {"field": "hi"},
                "y": {"field": "row", "type": "nominal", "axis": null,
                      "scale": {"paddingInner": 0, "paddingOuter": 1.222, "align": 0.0909}}
              }
            },
            {
              "mark": {"type": "text", "align": "right", "baseline": "middle", "dx": -4, "font": "Liberation Sans", "fontSize": 22, "fontWeight": "bold", "color": "#f0f0f0"},
              "encoding": {"x": {"datum": 0, "type": "quantitative"}, "y": {"datum": "bar", "type": "nominal"}, "text": {"value": "0°"}}
            },
            {
              "mark": {"type": "text", "align": "left", "baseline": "middle", "dx": 1, "font": "Liberation Sans", "fontSize": 22, "fontWeight": "bold", "color": "#f0f0f0"},
              "encoding": {"x": {"datum": 90, "type": "quantitative"}, "y": {"datum": "bar", "type": "nominal"}, "text": {"value": "90°"}}
            }
          ]
        }
      ]
    }
  ]
}
